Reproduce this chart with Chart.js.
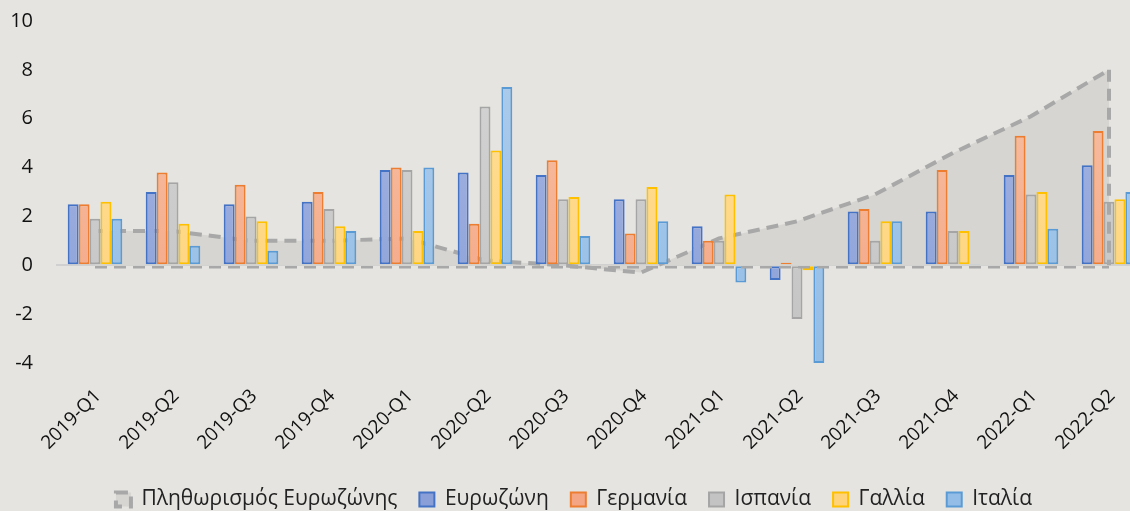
<!DOCTYPE html>
<html>
<head>
<meta charset="utf-8">
<script src="https://cdn.jsdelivr.net/npm/chart.js@4"></script>
<style>
  html, body { margin: 0; padding: 0; background: #e5e4e0; overflow: hidden; }
  #wrap { width: 1150px; height: 534px; position: relative; top: -14px; }
</style>
</head>
<body>
<div id="wrap"><canvas id="myChart"></canvas></div>
<script>
const quarters = ["2019-Q1","2019-Q2","2019-Q3","2019-Q4","2020-Q1","2020-Q2","2020-Q3","2020-Q4",
                  "2021-Q1","2021-Q2","2021-Q3","2021-Q4","2022-Q1","2022-Q2"];
const inflation = [1.4, 1.4, 1.0, 1.0, 1.1, 0.2, 0.0, -0.3, 1.1, 1.8, 2.9, 4.6, 6.1, 8.0];
const eurozone  = [2.5, 3.0, 2.5, 2.6, 3.9, 3.8, 3.7, 2.7, 1.6, -0.6, 2.2, 2.2, 3.7, 4.1];
const germany   = [2.5, 3.8, 3.3, 3.0, 4.0, 1.7, 4.3, 1.3, 1.0, 0.1, 2.3, 3.9, 5.3, 5.5];
const spain     = [1.9, 3.4, 2.0, 2.3, 3.9, 6.5, 2.7, 2.7, 1.0, -2.2, 1.0, 1.4, 2.9, 2.6];
const france    = [2.6, 1.7, 1.8, 1.6, 1.4, 4.7, 2.8, 3.2, 2.9, -0.2, 1.8, 1.4, 3.0, 2.7];
const italy     = [1.9, 0.8, 0.6, 1.4, 4.0, 7.3, 1.2, 1.8, -0.7, -4.0, 1.8, 0.05, 1.5, 3.0];
const yTicks = [-4, -2, 0, 2, 4, 6, 8, 10];

const font = "Open Sans, sans-serif";

function grad(top, bottom) {
  return function (ctx) {
    const area = ctx.chart.chartArea;
    if (!area) return bottom;
    const g = ctx.chart.ctx.createLinearGradient(0, area.top, 0, area.bottom);
    g.addColorStop(0, top);
    g.addColorStop(1, bottom);
    return g;
  };
}

function barSet(label, data, border, top, bottom) {
  return {
    type: "bar",
    label: label,
    data: data,
    borderColor: border,
    backgroundColor: grad(top, bottom),
    borderWidth: 2,
    borderSkipped: false,
    order: 0
  };
}

// dashed outline along the bottom and right edge of the inflation area
const areaEdges = {
  id: "areaEdges",
  afterDatasetsDraw(chart) {
    const x = chart.scales.x, y = chart.scales.y, c = chart.ctx;
    const last = inflation.length - 1;
    const x0 = x.getPixelForValue(0), x1 = x.getPixelForValue(last);
    const y0 = y.getPixelForValue(0), y1 = y.getPixelForValue(inflation[last]);
    c.save();
    c.strokeStyle = "#a8a8a8";
    c.setLineDash([12, 7]);
    c.lineWidth = 2.5;
    c.beginPath();
    c.moveTo(x0, y0 + 2);
    c.lineTo(x1, y0 + 2);
    c.stroke();
    c.lineWidth = 4;
    c.beginPath();
    c.moveTo(x1, y1);
    c.lineTo(x1, y0);
    c.stroke();
    c.restore();
  }
};

new Chart(document.getElementById("myChart").getContext("2d"), {
  data: {
    labels: quarters,
    datasets: [
      {
        type: "line",
        label: "Πληθωρισμός Ευρωζώνης",
        data: inflation,
        borderColor: "#a8a8a8",
        backgroundColor: "#d6d5d1",
        borderWidth: 4,
        borderDash: [12, 7],
        pointRadius: 0,
        fill: "origin",
        tension: 0,
        order: 1
      },
      barSet("Ευρωζώνη", eurozone, "#4472c4", "#a9b8e4", "#8a9fd8"),
      barSet("Γερμανία", germany, "#ed7d31", "#f8c3a8", "#f3a584"),
      barSet("Ισπανία", spain, "#a5a5a5", "#d6d6d6", "#c3c3c3"),
      barSet("Γαλλία", france, "#ffc000", "#ffe09a", "#ffd37a"),
      barSet("Ιταλία", italy, "#5b9bd5", "#b0cdec", "#93bde6")
    ]
  },
  plugins: [areaEdges],
  options: {
    responsive: true,
    maintainAspectRatio: false,
    animation: false,
    layout: { padding: { top: -3, right: 2, left: 0, bottom: 0 } },
    datasets: { bar: { barPercentage: 1, categoryPercentage: 0.7 } },
    scales: {
      x: {
        afterFit(axis) { axis.height = 104; },
        grid: { display: false },
        border: { display: false },
        ticks: {
          color: "#111",
          font: { family: font, size: 19 },
          minRotation: 45,
          maxRotation: 45,
          padding: 14,
          labelOffset: 3
        }
      },
      y: {
        min: -4,
        max: 10,
        afterBuildTicks(axis) { axis.ticks = yTicks.map(v => ({ value: v })); },
        afterFit(axis) { axis.width = 56; },
        grid: {
          drawTicks: false,
          color: ctx => (ctx.tick && ctx.tick.value === 0 ? "#d0d0d0" : "rgba(0,0,0,0)"),
          lineWidth: 2
        },
        border: { display: false },
        ticks: {
          color: "#111",
          font: { family: font, size: 20 },
          padding: 23
        }
      }
    },
    plugins: {
      legend: {
        position: "bottom",
        labels: {
          color: "#222",
          font: { family: font, size: 21 },
          boxWidth: 15,
          boxHeight: 14,
          padding: 22,
          sort: (a, b) => a.datasetIndex - b.datasetIndex
        }
      },
      tooltip: { enabled: false }
    }
  }
});
</script>
</body>
</html>
